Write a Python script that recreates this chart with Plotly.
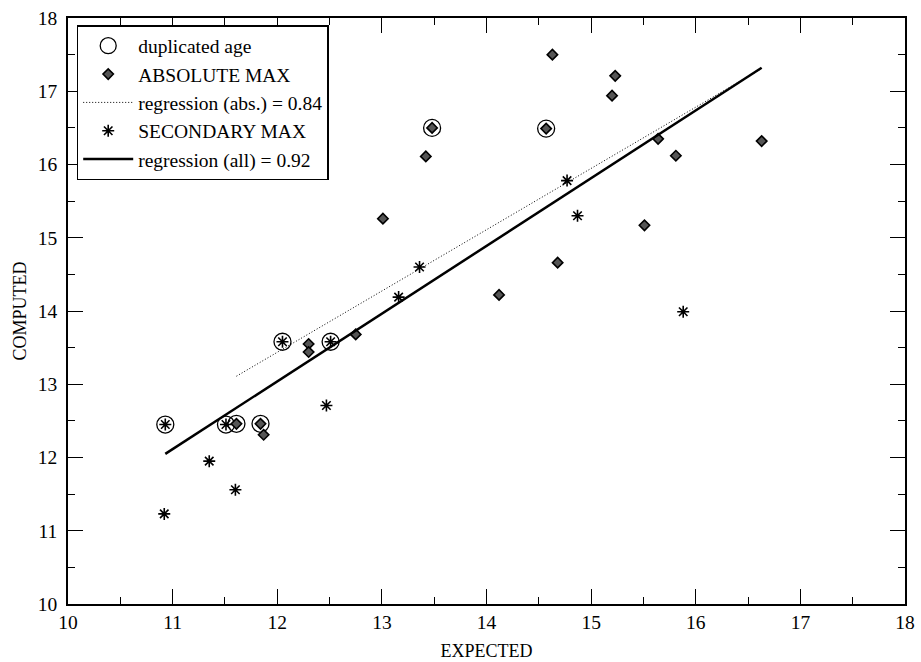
import plotly.graph_objects as go

# duplicated age (open circles)
dup_x = [10.93, 11.51, 11.61, 11.84, 12.05, 12.51, 13.48, 14.57]
dup_y = [12.45, 12.45, 12.46, 12.46, 13.58, 13.58, 16.50, 16.49]

# ABSOLUTE MAX (diamonds)
abs_x = [11.61, 11.84, 13.48, 14.57, 11.87, 12.30, 12.30, 12.75, 13.01, 13.42,
         14.12, 14.63, 14.68, 15.20, 15.23, 15.51, 15.64, 15.81, 16.63]
abs_y = [12.46, 12.46, 16.50, 16.49, 12.31, 13.55, 13.44, 13.68, 15.26, 16.11,
         14.22, 17.50, 14.66, 16.94, 17.21, 15.17, 16.35, 16.12, 16.32]

# SECONDARY MAX (asterisks)
sec_x = [10.93, 11.51, 12.05, 12.51, 11.35, 11.60, 10.92, 12.47, 13.16, 13.36,
         14.77, 14.87, 15.88]
sec_y = [12.45, 12.45, 13.58, 13.58, 11.95, 11.56, 11.23, 12.71, 14.19, 14.60,
         15.78, 15.30, 13.99]

# regression lines (end points)
reg_abs_x = [11.61, 16.63]
reg_abs_y = [13.11, 17.31]
reg_all_x = [10.93, 16.63]
reg_all_y = [12.05, 17.32]

x_ticks = list(range(10, 19))
y_ticks = list(range(10, 19))

FONT = "Liberation Serif"

fig = go.Figure()
fig.add_trace(go.Scatter(
    x=dup_x, y=dup_y, mode="markers", name="duplicated age", legendgroup="a",
    marker=dict(symbol="circle-open", size=17, color="black", line=dict(width=1.3, color="black"))))
fig.add_trace(go.Scatter(
    x=abs_x, y=abs_y, mode="markers", name="ABSOLUTE MAX", legendgroup="b",
    marker=dict(symbol="diamond", size=8, color="#555555", line=dict(width=1.6, color="black"))))
fig.add_trace(go.Scatter(
    x=reg_abs_x, y=reg_abs_y, mode="lines", name="regression (abs.) = 0.84", legendgroup="c",
    line=dict(color="black", width=1, dash="1px,2px")))
fig.add_trace(go.Scatter(
    x=sec_x, y=sec_y, mode="markers", name="SECONDARY MAX", legendgroup="d",
    marker=dict(symbol="asterisk-open", size=10, color="black", line=dict(width=1.6, color="black"))))
fig.add_trace(go.Scatter(
    x=reg_all_x, y=reg_all_y, mode="lines", name="regression (all) = 0.92", legendgroup="e",
    line=dict(color="black", width=2.5)))

axis_common = dict(
    showgrid=False, zeroline=False, showline=True, linecolor="black", linewidth=1.6,
    mirror="allticks", ticks="inside", ticklen=15, tickwidth=1.3, tickcolor="black",
    minor=dict(ticks="inside", ticklen=7.5, tickwidth=1.3, tickcolor="black", dtick=0.5),
    tickfont=dict(family=FONT, size=19.5, color="black"), automargin=False,
)
fig.update_xaxes(range=[10, 18], tickvals=x_ticks, ticktext=[str(v) for v in x_ticks],
                 title=dict(text="EXPECTED", font=dict(family=FONT, size=18, color="black"), standoff=12),
                 **axis_common)
fig.update_yaxes(range=[10, 18], tickvals=y_ticks, ticktext=[str(v) for v in y_ticks],
                 ticklabelstandoff=5,
                 title=dict(text="COMPUTED", font=dict(family=FONT, size=18, color="black"), standoff=6),
                 **axis_common)

fig.update_layout(
    width=921, height=662,
    margin=dict(l=68, r=16, t=18, b=58),
    paper_bgcolor="white", plot_bgcolor="white",
    showlegend=True,
    legend=dict(x=0.0104, y=0.988, xanchor="left", yanchor="top",
                bordercolor="black", borderwidth=1.5, bgcolor="white",
                font=dict(family=FONT, size=19.5, color="black"),
                traceorder="grouped", tracegroupgap=0, itemsizing="trace", itemwidth=50),
)

fig.write_html("out.html")
